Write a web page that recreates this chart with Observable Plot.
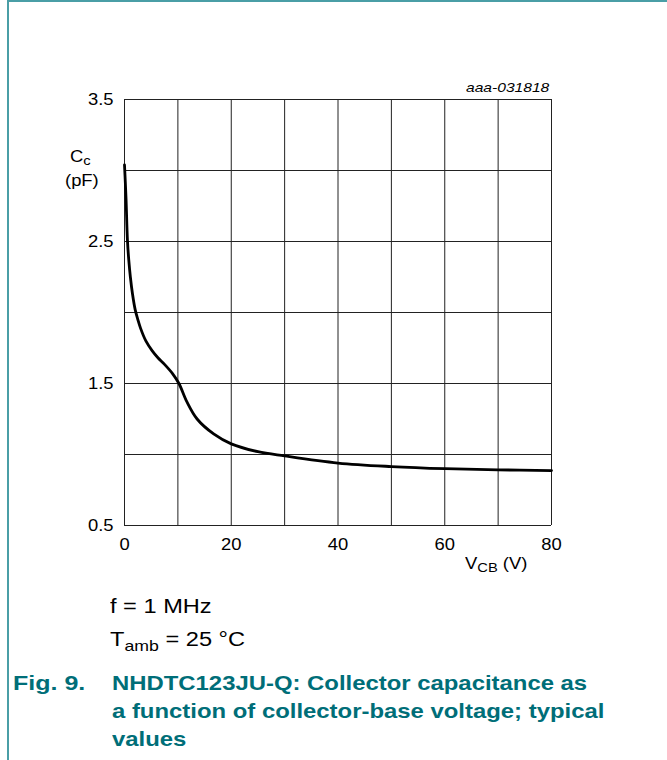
<!DOCTYPE html>
<html>
<head>
<meta charset="utf-8">
<script src="https://cdn.jsdelivr.net/npm/d3@7"></script>
<script src="https://cdn.jsdelivr.net/npm/@observablehq/plot@0.6"></script>
<style>
  html, body { margin: 0; padding: 0; background: #fff; }
  #page { position: relative; width: 667px; height: 760px; overflow: hidden; font-family: "Liberation Sans", Arial, sans-serif; }
  #frameTop { position: absolute; left: 7px; top: 0; width: 660px; height: 2px; background: #4a9ea6; }
  #frameLeft { position: absolute; left: 7px; top: 0; width: 2px; height: 760px; background: #4a9ea6; }
  #chart { position: absolute; left: 0; top: 0; }
  .lbl { position: absolute; white-space: nowrap; color: #000; transform-origin: left top; }
  .lbl sub { font-size: 0.8em; vertical-align: -0.25em; line-height: 0; }
  .cap { position: absolute; white-space: nowrap; color: #000; font-size: 20px; transform: scaleX(1.18); transform-origin: left top; line-height: 1; }
  .cap sub { font-size: 0.75em; vertical-align: -0.3em; line-height: 0; }
  .ttl { position: absolute; white-space: nowrap; color: #006e78; font-weight: bold; font-size: 20.5px; transform: scaleX(1.165); transform-origin: left top; line-height: 1; }
</style>
</head>
<body>
<div id="page">
  <div id="frameTop"></div>
  <div id="frameLeft"></div>
  <div id="chart"></div>
  <div class="lbl" style="left:70px; top:148px; font-size:16px; transform:scaleX(1.15);">C<sub>c</sub></div>
  <div class="lbl" style="left:65px; top:172px; font-size:16px; transform:scaleX(1.15);">(pF)</div>
  <div class="lbl" style="left:465px; top:555px; font-size:16px; transform:scaleX(1.15);">V<sub>CB</sub> (V)</div>
  <div class="lbl" style="left:466px; top:80px; font-size:13px; font-style:italic; transform:scaleX(1.2);">aaa-031818</div>
  <div class="cap" style="left:110px; top:596px;">f = 1 MHz</div>
  <div class="cap" style="left:110px; top:629px;">T<sub>amb</sub> = 25 °C</div>
  <div class="ttl" style="left:13px; top:673px; transform:scaleX(1.22);">Fig. 9.</div>
  <div class="ttl" style="left:112px; top:673px;">NHDTC123JU-Q: Collector capacitance as</div>
  <div class="ttl" style="left:112px; top:701px;">a function of collector-base voltage; typical</div>
  <div class="ttl" style="left:112px; top:729px;">values</div>
</div>
<script>
// Data
const vcb = [0, 0.15, 0.3, 0.55, 0.8, 1.1, 1.5, 2.0, 2.5, 3.0, 4.0, 5.2, 6.3, 7.5, 9.0, 10.2, 11.7, 13.6, 16.7, 20, 25, 30, 40, 50, 60, 70, 80];
const cc  = [3.04, 2.92, 2.79, 2.51, 2.37, 2.25, 2.13, 2.02, 1.95, 1.89, 1.80, 1.73, 1.68, 1.635, 1.57, 1.50, 1.37, 1.25, 1.145, 1.075, 1.02, 0.99, 0.94, 0.915, 0.90, 0.892, 0.887];
const xTicks = [0, 20, 40, 60, 80];
const yTicks = [0.5, 1.5, 2.5, 3.5];
const xGrid = [0, 10, 20, 30, 40, 50, 60, 70, 80];
const yGrid = [0.5, 1.0, 1.5, 2.0, 2.5, 3.0, 3.5];

const data = vcb.map((v, i) => ({v, c: cc[i]}));

const chart = Plot.plot({
  width: 667,
  height: 600,
  marginLeft: 124,
  marginRight: 116,
  marginTop: 99,
  marginBottom: 75,
  style: {fontFamily: "'Liberation Sans', Arial, sans-serif", fontSize: "16px", color: "#000", background: "transparent"},
  x: {domain: [0, 80]},
  y: {domain: [0.5, 3.5]},
  marks: [
    Plot.ruleX(xGrid, {stroke: "#222", strokeWidth: 1}),
    Plot.ruleY(yGrid, {stroke: "#222", strokeWidth: 1}),
    Plot.axisX(xTicks, {tickSize: 0, tickPadding: 13, label: null, fontSize: 16}),
    Plot.axisY(yTicks, {tickSize: 0, tickPadding: 11, label: null, fontSize: 16, tickFormat: d => d.toFixed(1)}),
    Plot.line(data, {x: "v", y: "c", curve: "catmull-rom", stroke: "#000", strokeWidth: 2.8})
  ]
});
document.getElementById("chart").appendChild(chart);
d3.select(chart).selectAll("text").each(function() {
  const t = this.getAttribute("transform") || "";
  this.setAttribute("transform", t + " scale(1.15,1)");
});
</script>
</body>
</html>
